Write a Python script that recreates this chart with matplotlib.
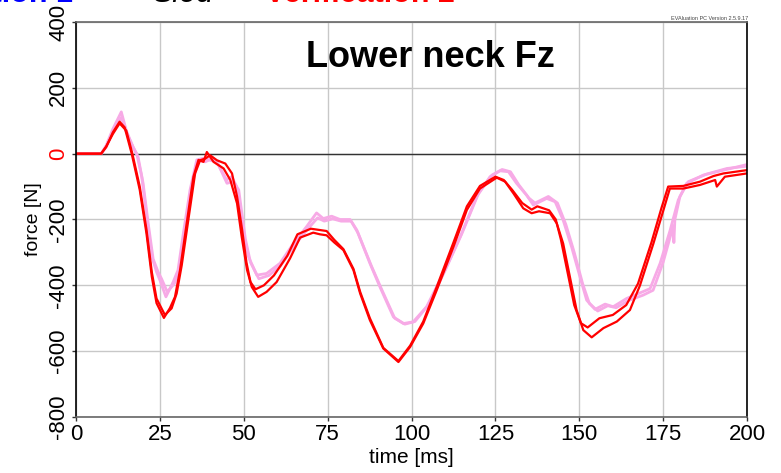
import matplotlib
matplotlib.use("Agg")
import matplotlib.pyplot as plt

plt.rcParams['font.family'] = ['Liberation Sans', 'DejaVu Sans']

# red test curves (two runs)
red1_t = [0, 7.5, 9, 11, 13, 14.5, 16.6, 19, 21, 22.6, 24, 26.2, 28, 29.5, 31, 33, 35, 36.5, 38, 39, 41, 44, 46, 48,
          49.4, 51, 52.4, 54.3, 56.8, 59.8, 63.8, 66.8, 70.7, 72.7, 74.7, 77, 79.7, 82.7, 84.7, 87.6, 91.6, 96.1,
          99.6, 103.5, 107.5, 112.5, 116.5, 120.4, 125.4, 127.9, 130.4, 133.3, 135.8, 138, 141.3, 143.3, 145.2,
          147.2, 149.2, 151.2, 153.7, 157.2, 161.2, 165.1, 168.1, 172.1, 175.1, 177, 181, 186, 190.5, 191, 193.4, 200]
red1_f = [0, 0, 20, 65, 97, 80, 0, -110, -242, -374, -454, -499, -469, -435, -354, -211, -70, -19, -25, 5, -25, -45,
          -80, -151, -253, -354, -405, -435, -420, -390, -318, -255, -240, -245, -248, -270, -293, -354, -425, -506,
          -592, -633, -587, -516, -415, -283, -171, -106, -73, -85, -121, -166, -181, -175, -181, -212, -273, -374,
          -475, -536, -558, -530, -510, -475, -400, -273, -171, -106, -106, -95, -80, -100, -70, -60]

red2_t = [0, 7.5, 9, 11, 13, 15, 16.8, 19, 21, 22.6, 24, 26.5, 28.5, 30, 31.5, 33.5, 35.5, 37, 38.5, 40, 42, 44.5,
          46.5, 48, 49.5, 50.8, 52, 53.5, 56, 59, 63, 66, 70, 72.7, 74.7, 77, 79.7, 82.7, 84.7, 87.6, 91.6, 96.1,
          99.6, 103.5, 107.5, 112.5, 116.5, 120.4, 125, 127.5, 130, 133, 135.8, 137.5, 141, 143, 144.5, 146.5, 148.5,
          150.5, 152.5, 156, 160, 164, 167.5, 171.5, 174.5, 176.5, 181, 186, 190, 193, 200]
red2_f = [0, 0, 22, 60, 92, 70, 0, -100, -230, -360, -440, -490, -470, -425, -340, -200, -60, -20, -15, -5, -20, -30,
          -60, -130, -230, -330, -390, -412, -400, -370, -310, -245, -228, -232, -235, -262, -290, -350, -420, -500,
          -590, -630, -583, -510, -405, -270, -160, -98, -70, -80, -110, -150, -170, -160, -172, -200, -260, -360,
          -460, -515, -528, -500, -490, -460, -395, -270, -165, -100, -98, -85, -68, -60, -50]

# pink reference curves (two runs)
pink1_t = [0, 7.5, 9, 11, 13.5, 15, 17, 18.1, 19.6, 21.1, 22.6, 24, 25, 26.8, 29, 30.4, 32, 34, 36, 38, 40, 42, 44.9,
           46.4, 47.9, 49.9, 51.4, 53.9, 56.8, 60.8, 64.8, 68.7, 71.7, 73.7, 76.2, 78.7, 81.7, 83.7, 87.6, 90.6, 94.6,
           97.6, 100.5, 104.5, 109.5, 114.5, 119.4, 123.4, 126.4, 128.9, 131.3, 134.3, 136.3, 138.3, 140.3, 142.8,
           145.2, 147.7, 150.2, 152.2, 154.7, 157.7, 160.1, 164.1, 168.1, 171.1, 174.1, 177.1, 179.5, 182, 187,
           193.9, 200]
pink1_f = [0, 0, 25, 75, 127, 70, 20, 0, -70, -192, -313, -359, -384, -435, -389, -354, -242, -110, -19, -14, -20,
           -25, -80, -70, -100, -242, -313, -369, -364, -333, -273, -222, -180, -197, -190, -200, -200, -232, -333,
           -405, -496, -516, -511, -465, -364, -253, -131, -70, -52, -55, -90, -126, -156, -146, -136, -146, -202,
           -283, -374, -445, -473, -457, -465, -440, -423, -410, -333, -232, -141, -90, -65, -48, -33]

pink2_t = [0, 7.5, 9, 11, 13.5, 15, 17.5, 18.5, 20, 21.5, 23, 24.5, 25.5, 27.2, 29.3, 30.8, 32.5, 34.5, 36.5, 38.5,
           40.5, 42.5, 45, 46.8, 48.5, 50.5, 52, 54.5, 57.5, 61, 65, 69, 72, 74, 76.5, 79, 82, 84, 88, 91, 95, 98,
           101, 105, 110, 115, 120, 124, 127, 129.5, 132, 135, 136.8, 138.8, 140.8, 143.5, 146, 148.5, 151, 153,
           155.5, 158.5, 161, 165, 169, 172, 175, 178, 178.2, 178.5, 180, 182.5, 188, 194, 200]
pink2_f = [0, 0, 20, 65, 110, 65, 10, -10, -90, -210, -320, -360, -380, -420, -395, -350, -230, -95, -20, -25, -15,
           -35, -90, -85, -110, -260, -330, -380, -370, -340, -280, -230, -195, -205, -198, -205, -205, -240, -340,
           -410, -500, -518, -510, -460, -355, -243, -120, -65, -48, -55, -95, -135, -150, -140, -130, -150, -215,
           -300, -395, -455, -478, -462, -468, -445, -430, -415, -330, -220, -270, -200, -130, -85, -62, -45, -38]

x_ticks = [0, 25, 50, 75, 100, 125, 150, 175, 200]
y_ticks = [-800, -600, -400, -200, 0, 200, 400]

fig = plt.figure(figsize=(7.81, 4.73), dpi=100)
ax = fig.add_axes([0.0973, 0.1184, 0.8592, 0.8351])

pink = '#f7aae6'
ax.plot(pink2_t, pink2_f, color=pink, lw=2.0)
ax.plot(pink1_t, pink1_f, color=pink, lw=2.0)
ax.plot(red2_t, red2_f, color='#ff0000', lw=1.6)
ax.plot(red1_t, red1_f, color='#ff0000', lw=1.6)
ax.axhline(0, color='#333333', lw=1.0, zorder=1)

ax.set_xlim(0, 200); ax.set_ylim(-800, 400)
ax.set_xticks(x_ticks); ax.set_yticks(y_ticks)
ax.grid(True, color='#c8c8c8', lw=1.0)
ax.set_axisbelow(True)

ax.set_xticklabels([str(v) for v in x_ticks], fontsize=16)
ax.set_yticklabels([str(v) for v in y_ticks], fontsize=16, rotation=90, va='center')
for lbl in ax.get_yticklabels():
    if lbl.get_text() == '0':
        lbl.set_color('#ff0000')
ax.tick_params(axis='both', length=3, width=1, pad=2, color='#333333')

ax.set_xlabel("time [ms]", fontsize=15, labelpad=2)
ax.set_ylabel("force [N]", fontsize=14, labelpad=4)

for s in ['left', 'right']:
    ax.spines[s].set_color('black')
for s in ['top', 'bottom']:
    ax.spines[s].set_color('#666666')
for s in ax.spines.values():
    s.set_linewidth(1.2)

ax.text(0.5276, 0.886, "Lower neck Fz", transform=ax.transAxes, ha='center', va='baseline',
        fontsize=26, fontweight='bold')
fig.text(748 / 781, 1 - 20 / 473, "EVAluation PC Version 2.5.9.17", ha='right', va='baseline',
         fontsize=4, color='#444444')

# header legend, cut off at the top edge
fig.text(73 / 781, 1 - 2 / 473, "Verification 1", color='#0000ff', fontsize=22, fontweight='bold',
         ha='right', va='baseline')
fig.text(183 / 781, 1 - 2 / 473, "Sled", color='black', fontsize=22, style='italic',
         ha='center', va='baseline')
fig.text(265 / 781, 1 - 2 / 473, "Verification 2", color='#ff0000', fontsize=22, fontweight='bold',
         ha='left', va='baseline')

plt.savefig("out.png", dpi=100)
plt.close()
